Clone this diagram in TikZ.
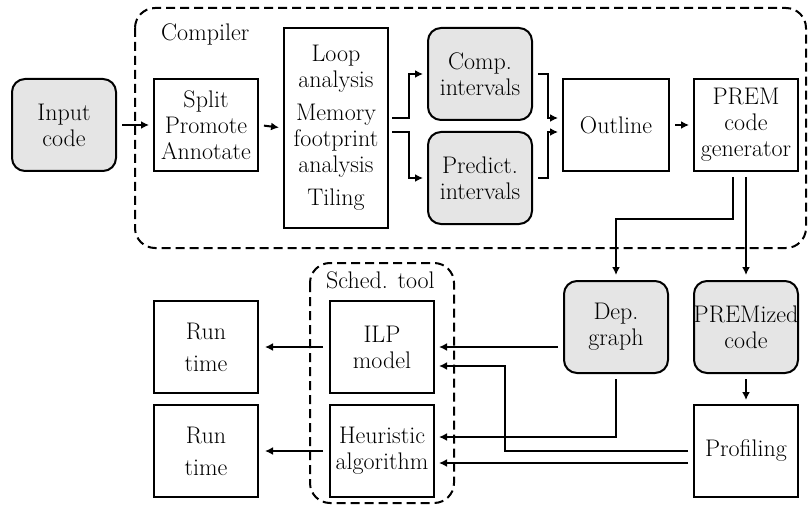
\documentclass[tikz,border=0pt]{standalone}
\usetikzlibrary{arrows.meta,calc}
\begin{document}
\begin{tikzpicture}[x=1pt,y=1pt,
  box/.style={draw,line width=2pt,minimum width=104pt,minimum height=92pt,inner sep=0pt,align=center,font=\fontsize{24}{26}\selectfont},
  gbox/.style={box,rounded corners=13pt,fill=gray!20},
  arr/.style={line width=2pt,-{Latex[length=8pt,width=8pt]},shorten <=5pt,shorten >=4pt},
  region/.style={draw,line width=2pt,dash pattern=on 9pt off 5pt,rounded corners=20pt},
  lbl/.style={font=\fontsize{24}{26}\selectfont,inner sep=0pt}
]
\useasboundingbox (0,0) rectangle (808,-505);
% regions
\draw[region] (135,-8) rectangle (806,-248);
\draw[region] (310,-263) rectangle (454,-503);
\node[lbl,anchor=base west] (complbl) at (161,-41) {Compiler};
\node[lbl,anchor=base west] (schedlbl) at (326,-288) {Sched. tool};
% nodes
\node[gbox] (in) at (64,-125) {Input\\code};
\node[box] (split) at (206,-125) {Split\\Promote\\Annotate};
\node[box,minimum height=200pt] (loop) at (336,-128) {Loop\\analysis\\[7pt]Memory\\footprint\\analysis\\[7pt]Tiling};
\node[gbox] (comp) at (480,-74) {Comp.\\intervals};
\node[gbox] (pred) at (480,-178) {Predict.\\intervals};
\node[box,minimum width=106pt] (outline) at (616,-125) {Outline};
\node[box] (prem) at (746,-125) {PREM\\code\\generator};
\node[gbox] (dep) at (616,-327) {Dep.\\graph};
\node[gbox] (pzd) at (746,-327) {\makebox[0pt]{PREMized}\\code};
\node[box] (prof) at (746,-451) {Profiling};
\node[box] (ilp) at (382,-347) {ILP\\model};
\node[box] (heur) at (382,-451) {Heuristic\\algorithm};
\node[box] (rt1) at (206,-347) {Run\\[6pt]time};
\node[box] (rt2) at (206,-451) {Run\\[6pt]time};
% connectors
\draw[arr] (in.east) -- (split.west);
\draw[arr] (split.east) -- (loop.west);
\draw[arr,shorten <=3pt] ($(loop.east)+(0,10)$) -- ++(20,0) |- (comp.west);
\draw[arr,shorten <=3pt] ($(loop.east)+(0,-4)$) -- ++(20,0) |- (pred.west);
\draw[arr] (comp.east) -- ++(15,0) |- ($(outline.west)+(0,7)$);
\draw[arr] (pred.east) -- ++(15,0) |- ($(outline.west)+(0,-7)$);
\draw[arr] (outline.east) -- (prem.west);
\draw[arr,shorten >=5pt] ($(prem.south)+(-13,0)$) -- ++(0,-47) -| (dep.north);
\draw[arr,shorten >=5pt] (prem.south) -- (pzd.north);
\draw[arr] (pzd.south) -- (prof.north);
\draw[arr] ($(dep.west)+(0,-20)$) -- (ilp.east);
\draw[arr] (dep.south) |- ($(heur.east)+(0,14)$);
\draw[arr] (prof.west) -- ++(-188,0) |- ($(ilp.east)+(0,-19)$);
\draw[arr] ($(prof.west)+(0,-12)$) -- ($(heur.east)+(0,-12)$);
\draw[arr,shorten <=6pt,shorten >=6pt] (ilp.west) -- (rt1.east);
\draw[arr,shorten <=6pt,shorten >=6pt] (heur.west) -- (rt2.east);
\end{tikzpicture}
\end{document}
